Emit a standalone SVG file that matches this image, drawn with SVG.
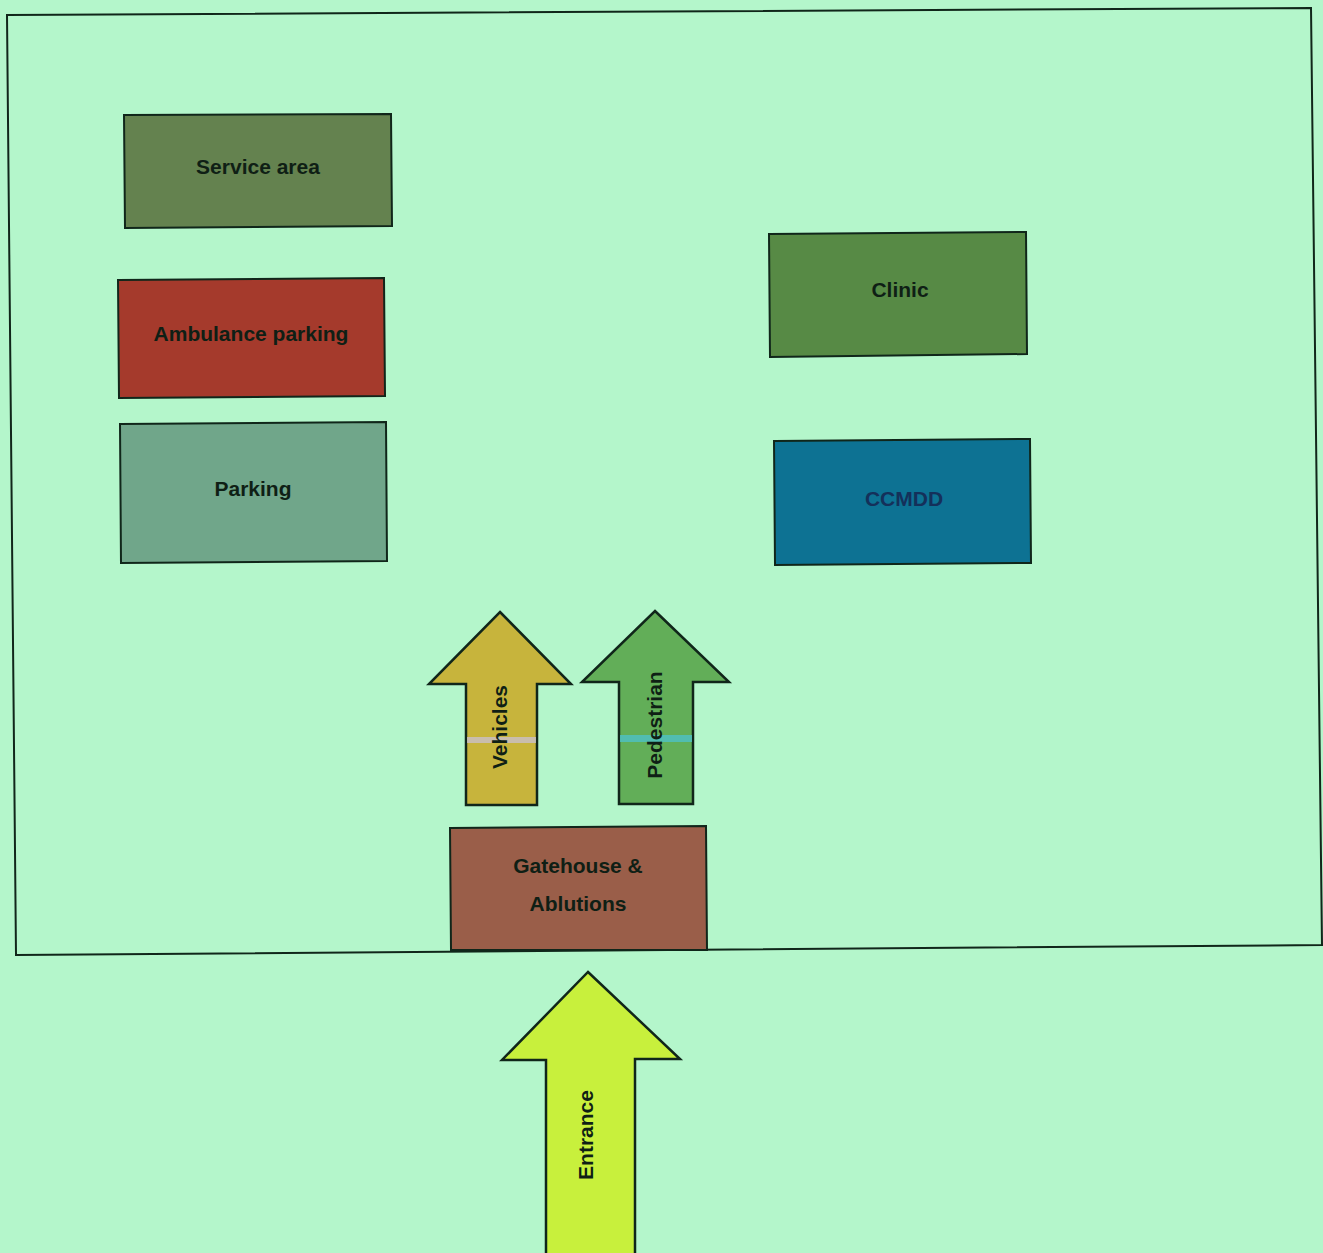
<svg xmlns="http://www.w3.org/2000/svg" width="1323" height="1253" viewBox="0 0 1323 1253">
<style>
.box{stroke:#10261a;stroke-width:2}
.arrow{stroke:#10261a;stroke-width:2.5;stroke-linejoin:miter}
.lbl{font-family:"Liberation Sans",Arial,sans-serif;font-weight:bold;font-size:21px;fill:#0f1f15;text-anchor:middle;dominant-baseline:central}
</style>
<rect width="1323" height="1253" fill="#b4f6cb"/>
<polygon id="site" points="7,15 1311,8 1322,945 16,955" fill="none" stroke="#10261a" stroke-width="2"/>
<g id="service-area">
<polygon class="box" points="124,115 391,114 392,226 125,228" fill="#64824f"/>
<text class="lbl" x="258" y="166">Service area</text>
</g>
<g id="ambulance-parking">
<polygon class="box" points="118,280 384,278 385,396 119,398" fill="#a53a2c"/>
<text class="lbl" x="251" y="333">Ambulance parking</text>
</g>
<g id="parking">
<polygon class="box" points="120,424 386,422 387,561 121,563" fill="#70a68a"/>
<text class="lbl" x="253" y="488">Parking</text>
</g>
<g id="clinic">
<polygon class="box" points="769,234 1026,232 1027,354 770,357" fill="#578a45"/>
<text class="lbl" x="900" y="289">Clinic</text>
</g>
<g id="ccmdd">
<polygon class="box" points="774,441 1030,439 1031,563 775,565" fill="#0d7293"/>
<text class="lbl" x="904" y="498" style="fill:#14305a">CCMDD</text>
</g>
<g id="gatehouse">
<polygon class="box" points="450,828 706,826 707,950 451,950" fill="#9a5e49"/>
<text class="lbl" x="578" y="865">Gatehouse &amp;</text>
<text class="lbl" x="578" y="903">Ablutions</text>
</g>
<g id="connectors">
<g id="vehicles">
<polygon class="arrow" points="500,612 571,684 537,684 537,805 466,805 466,684 429,684" fill="#c7b43c"/>
<rect x="467" y="737" width="69" height="6" fill="#c9bfc9" opacity="0.8"/>
<text class="lbl" transform="translate(499,727) rotate(-90)">Vehicles</text>
</g>
<g id="pedestrian">
<polygon class="arrow" points="655,611 729,682 693,682 693,804 619,804 619,682 582,682" fill="#62ae58"/>
<rect x="620" y="735" width="72" height="7" fill="#4fc0c0" opacity="0.85"/>
<text class="lbl" transform="translate(654,725) rotate(-90)">Pedestrian</text>
</g>
<g id="entrance">
<polygon class="arrow" points="588,972 680,1059 635,1059 635,1255 546,1255 546,1060 502,1060" fill="#c8f03c"/>
<text class="lbl" transform="translate(585,1135) rotate(-90)">Entrance</text>
</g>
</g>
</svg>
